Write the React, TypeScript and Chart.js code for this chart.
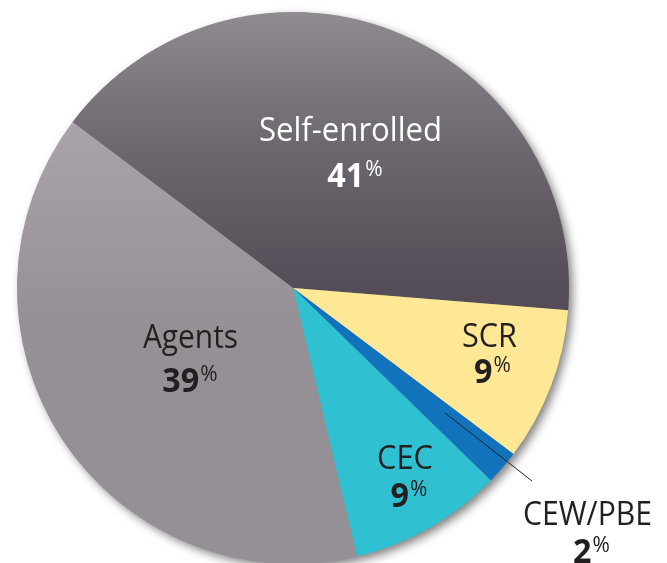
import React, { useEffect, useRef } from 'react';
import { Chart, registerables } from 'chart.js';

Chart.register(...registerables);

const CATEGORIES = ['Self-enrolled', 'SCR', 'CEW/PBE', 'CEC', 'Agents'];
const SHARES = [41, 9, 2, 9, 39];
const FLAT_COLORS = ['#6a646c', '#fee895', '#1173bb', '#2fc0d2', '#9c969c'];

// label layout (annotation positions, not data)
const LABEL_LAYOUT = [
  { nx: 350.5, ny: 141, nw: 183, px: 355, py: 187, color: '#ffffff' },
  { nx: 489.5, ny: 347, nw: 55, px: 492.5, py: 383, color: '#231f20' },
  { nx: 587.5, ny: 525, nw: 129, px: 591.5, py: 563, color: '#231f20' },
  { nx: 405, ny: 469, nw: 56, px: 409, py: 507, color: '#231f20' },
  { nx: 190.5, ny: 348, nw: 95, px: 190, py: 392, color: '#231f20' },
];

const FONT = '"Open Sans", "Noto Sans", sans-serif';

const shadowPlugin = {
  id: 'pieShadow',
  beforeDatasetsDraw(chart: any) {
    const meta = chart.getDatasetMeta(0);
    const arc = meta.data[0];
    if (!arc) return;
    const { x, y, outerRadius } = arc.getProps(['x', 'y', 'outerRadius'], true);
    const ctx = chart.ctx;
    ctx.save();
    ctx.shadowColor = 'rgba(0,0,0,0.5)';
    ctx.shadowBlur = 10;
    ctx.shadowOffsetX = 4;
    ctx.shadowOffsetY = 4;
    ctx.beginPath();
    ctx.arc(x, y, outerRadius - 0.5, 0, Math.PI * 2);
    ctx.fillStyle = '#8a8489';
    ctx.fill();
    ctx.restore();
  },
};

const labelPlugin = {
  id: 'pieLabels',
  afterDatasetsDraw(chart: any) {
    const ctx = chart.ctx;
    ctx.save();
    // leader line for the small slice
    ctx.strokeStyle = '#231f20';
    ctx.lineWidth = 1;
    ctx.beginPath();
    ctx.moveTo(445, 413);
    ctx.lineTo(532, 481);
    ctx.stroke();

    CATEGORIES.forEach((name, i) => {
      const L = LABEL_LAYOUT[i];
      ctx.fillStyle = L.color;
      // name
      ctx.font = `400 33px ${FONT}`;
      ctx.textAlign = 'center';
      ctx.textBaseline = 'alphabetic';
      const w = ctx.measureText(name).width;
      ctx.save();
      ctx.translate(L.nx, L.ny);
      ctx.scale(L.nw / w, 1);
      ctx.fillText(name, 0, 0);
      ctx.restore();
      // value
      const num = String(SHARES[i]);
      ctx.textAlign = 'left';
      ctx.font = `700 34px ${FONT}`;
      const wn = ctx.measureText(num).width * 0.95;
      ctx.font = `400 21px ${FONT}`;
      const wp = ctx.measureText('%').width;
      const total = wn + 1 + wp;
      const sx = L.px - total / 2;
      ctx.save();
      ctx.translate(sx, L.py);
      ctx.scale(0.95, 1);
      ctx.font = `700 34px ${FONT}`;
      ctx.fillText(num, 0, 0);
      ctx.restore();
      ctx.font = `400 21px ${FONT}`;
      ctx.fillText('%', sx + wn + 1, L.py - 11);
    });
    ctx.restore();
  },
};

function sliceColor(c: any) {
  const i = c.dataIndex;
  const chart = c.chart;
  const area = chart.chartArea;
  if (!area) return FLAT_COLORS[i];
  const cy = (area.top + area.bottom) / 2;
  if (i === 0) {
    const g = chart.ctx.createLinearGradient(0, area.top, 0, cy);
    g.addColorStop(0, '#8f8b90');
    g.addColorStop(0.5, '#6c666e');
    g.addColorStop(1, '#544c56');
    return g;
  }
  if (i === 4) {
    const g = chart.ctx.createLinearGradient(0, area.top + 80, 0, cy + 40);
    g.addColorStop(0, '#aca7ac');
    g.addColorStop(1, '#958f96');
    return g;
  }
  return FLAT_COLORS[i];
}

export default function App() {
  const ref = useRef<HTMLCanvasElement | null>(null);
  useEffect(() => {
    if (!ref.current) return;
    const chart = new Chart(ref.current, {
      type: 'pie',
      data: {
        labels: CATEGORIES,
        datasets: [
          {
            data: SHARES,
            backgroundColor: sliceColor as any,
            borderWidth: 0,
          },
        ],
      },
      options: {
        responsive: false,
        animation: false,
        rotation: -53,
        layout: { padding: { left: 17, right: 98, top: 12, bottom: 36 } },
        plugins: {
          legend: { display: false },
          tooltip: { enabled: false },
        },
      },
      plugins: [shadowPlugin, labelPlugin],
    });
    return () => chart.destroy();
  }, []);
  return (
    <div
      style={{
        position: 'absolute',
        left: 0,
        top: 0,
        width: 667,
        height: 563,
        overflow: 'hidden',
        background: '#ffffff',
      }}
    >
      <canvas ref={ref} width={667} height={600} style={{ display: 'block' }} />
    </div>
  );
}
